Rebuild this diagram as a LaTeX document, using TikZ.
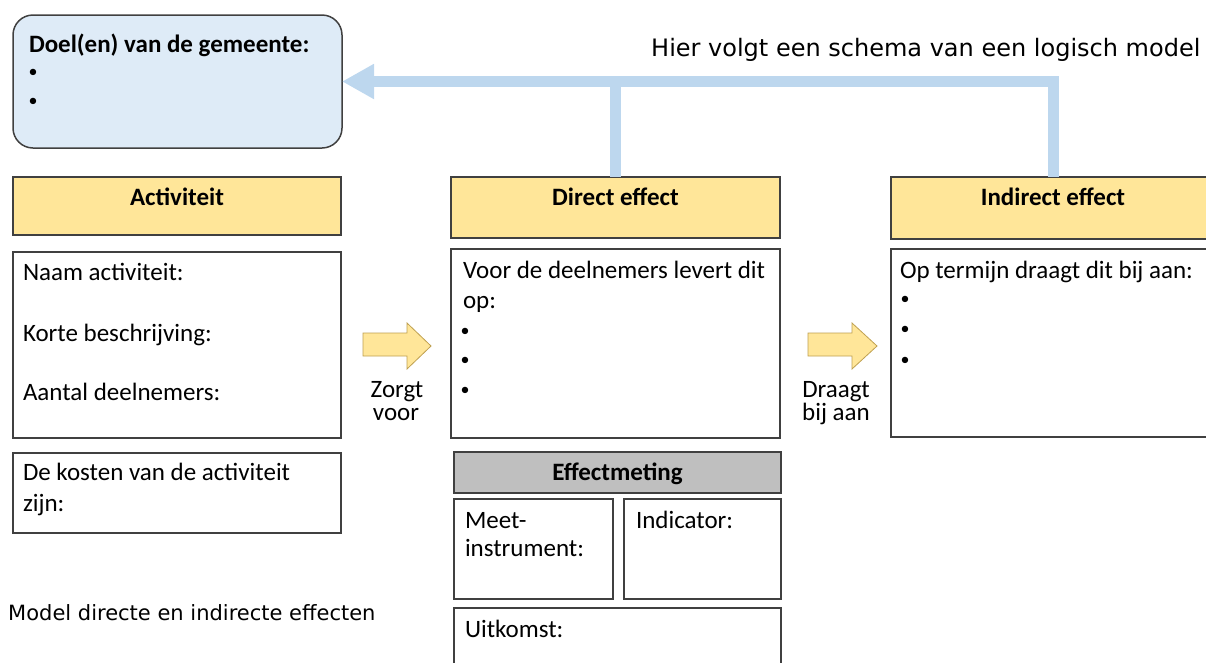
\documentclass[tikz,border=0pt]{standalone}
\usepackage{fontspec}
\setmainfont{Carlito}
\newfontfamily\verd{DejaVu Sans}
\usetikzlibrary{arrows.meta}
\definecolor{hdryellow}{HTML}{FFE699}
\definecolor{hdrgray}{HTML}{BFBFBF}
\definecolor{doelblue}{HTML}{DEEBF7}
\definecolor{fbblue}{HTML}{BDD7EE}
\definecolor{bordergray}{HTML}{404040}
\definecolor{arrowedge}{RGB}{191,160,80}
\newcommand\mybodyfont{\fontsize{25}{30}\selectfont}
\newcommand\mybulletfont{\fontsize{18}{22}\selectfont}
\begin{document}
\begin{tikzpicture}[x=1pt,y=-1pt,
  box/.style={draw=bordergray, line width=1.5pt, inner sep=0pt, outer sep=0pt},
  hdr/.style={box, fill=hdryellow},
  graybox/.style={box, fill=hdrgray},
  txt/.style={inner sep=0pt, outer sep=0pt, anchor=base west, font=\mybodyfont},
  ctxt/.style={txt, anchor=base},
  bul/.style={inner sep=0pt, outer sep=0pt, anchor=base, font=\mybulletfont},
  htxt/.style={ctxt, font=\mybodyfont\bfseries},
  blockarrow/.style={fill=hdryellow, draw=arrowedge, line width=0.8pt, line join=miter},
  feedback/.style={draw=fbblue, line width=11pt, line join=miter}
]
\useasboundingbox (0,0) rectangle (1206,662);
\clip (0,0) rectangle (1206,662);

% goal box
\node[box, fill=doelblue, rounded corners=20pt, minimum width=329, minimum height=133] (doel) at (177.5,81.5) {};
\node[txt, font=\mybodyfont\bfseries] (doelt) at (29,52) {Doel(en) van de gemeente:};
\node[bul] (doelb1) at (33,77) {•};
\node[bul] (doelb2) at (33,106) {•};

% activity column
\node[hdr, minimum width=328, minimum height=58] (acth) at (177,206) {};
\node[htxt] (achtt) at (177,205) {Activiteit};
\node[box, minimum width=328, minimum height=186] (actc) at (177,345) {};
\node[txt] (act1) at (23,280) {Naam activiteit:};
\node[txt] (act2) at (23,341) {Korte beschrijving:};
\node[txt] (act3) at (23,400) {Aantal deelnemers:};
\node[box, minimum width=328, minimum height=80] (kost) at (177,493) {};
\node[txt] (kost1) at (23,480) {De kosten van de activiteit};
\node[txt] (kost2) at (23,511) {zijn:};

% direct effect column
\node[hdr, minimum width=329, minimum height=61] (dirh) at (615.5,207.5) {};
\node[htxt] (dirht) at (615.5,205) {Direct effect};
\node[box, minimum width=329, minimum height=189] (dirc) at (615.5,343.5) {};
\node[txt] (dir1) at (463,278) {Voor de deelnemers levert dit};
\node[txt] (dir2) at (463,308) {op:};
\node[bul] (dirb1) at (465,336) {•};
\node[bul] (dirb2) at (465,365) {•};
\node[bul] (dirb3) at (465,395) {•};

% effect measurement
\node[graybox, minimum width=327, minimum height=41] (effh) at (617.5,472.5) {};
\node[htxt] (effht) at (617.5,480) {Effectmeting};
\node[box, minimum width=159, minimum height=100] (meet) at (533.5,549) {};
\node[txt] (meet1) at (465,528) {Meet-};
\node[txt] (meet2) at (465,556) {instrument:};
\node[box, minimum width=157, minimum height=100] (indic) at (702.5,549) {};
\node[txt] (indic1) at (636,528) {Indicator:};
\node[box, minimum width=327, minimum height=72] (uitk) at (617.5,644) {};
\node[txt] (uitk1) at (465,637) {Uitkomst:};

% indirect effect column
\node[hdr, minimum width=324, minimum height=62] (indh) at (1053,208) {};
\node[htxt] (indht) at (1053,205) {Indirect effect};
\node[box, minimum width=324, minimum height=188] (indc) at (1053,343) {};
\node[txt] (ind1) at (900,278) {Op termijn draagt dit bij aan:};
\node[bul] (indb1) at (905,304) {•};
\node[bul] (indb2) at (905,334) {•};
\node[bul] (indb3) at (905,365) {•};

% block arrows
\draw[blockarrow] (363,333) -- (407,333) -- (407,323) -- (431,346) -- (407,369) -- (407,356) -- (363,356) -- cycle;
\node[ctxt] (zorgt) at (397,397) {Zorgt};
\node[ctxt] (voor) at (396,420) {voor};
\draw[blockarrow] (808,333) -- (852,333) -- (852,323) -- (877,346) -- (852,369) -- (852,356) -- (808,356) -- cycle;
\node[ctxt] (draagt) at (836,397) {Draagt};
\node[ctxt] (bijaan) at (836,420) {bij aan};

% feedback connector
\draw[feedback] (dirh.north) -- (dirh.north |- doel.east);
\draw[feedback, -{Triangle[length=32pt,width=33pt]}] (indh.north) |- (doel.east);

% free texts
\node[inner sep=0pt, anchor=base west, font=\verd\fontsize{24}{28}\selectfont] (title) at (651,56) {Hier volgt een schema van een logisch model};
\node[inner sep=0pt, anchor=base west, font=\verd\fontsize{21}{25}\selectfont] (caption) at (8,620) {Model directe en indirecte effecten};
\end{tikzpicture}
\end{document}
